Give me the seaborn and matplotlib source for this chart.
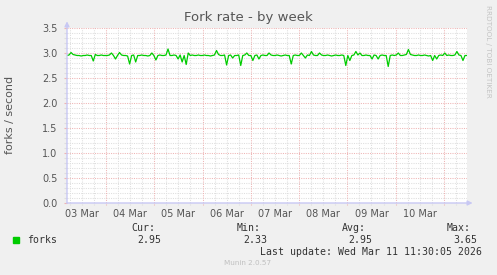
import matplotlib
matplotlib.use("Agg")
import matplotlib.pyplot as plt
import seaborn as sns
import pandas as pd
import numpy as np

# ---- data (hourly samples) ----
forks = [
    # 03 Mar (05h..23h)
    2.95, 2.96, 3.01, 2.97, 2.96, 2.95, 2.95, 2.94, 2.95, 2.95, 2.96, 2.95, 2.95, 2.84, 2.97, 2.95, 2.95, 2.96, 2.95,
    # 04 Mar
    2.95, 2.95, 2.96, 3.00, 2.95, 2.88, 2.95, 3.01, 2.96, 2.95, 2.95, 2.94, 2.78, 2.95, 2.96, 2.82, 2.95, 2.95, 2.96, 2.95, 2.95, 2.94, 2.95, 3.00,
    # 05 Mar
    2.95, 2.86, 2.95, 2.96, 2.95, 2.95, 2.96, 3.08, 2.95, 2.95, 2.96, 2.95, 2.88, 2.96, 2.82, 2.95, 2.77, 3.00, 2.95, 2.96, 2.95, 2.95, 2.96, 2.95,
    # 06 Mar
    2.95, 2.96, 2.95, 2.95, 2.94, 2.95, 2.96, 3.05, 2.97, 2.95, 2.95, 2.96, 2.76, 2.95, 2.96, 2.90, 2.95, 2.95, 2.96, 2.75, 2.95, 2.96, 3.00, 2.95,
    # 07 Mar
    2.95, 2.85, 2.95, 2.96, 2.88, 2.95, 2.96, 2.95, 2.95, 3.00, 2.96, 2.95, 2.95, 2.96, 2.95, 2.94, 2.95, 2.96, 2.95, 2.95, 2.78, 2.95, 2.96, 2.95,
    # 08 Mar
    2.95, 3.00, 2.95, 2.90, 2.96, 2.95, 3.03, 2.96, 2.95, 2.95, 3.00, 2.96, 2.95, 2.95, 2.96, 2.95, 2.94, 2.95, 2.96, 2.95, 2.95, 2.96, 2.95, 2.75,
    # 09 Mar
    2.95, 2.85, 2.95, 2.96, 3.03, 2.96, 3.00, 2.95, 2.95, 2.96, 2.95, 2.95, 2.88, 2.96, 2.95, 2.88, 2.95, 2.96, 2.95, 2.95, 2.73, 2.95, 2.96, 2.95,
    # 10 Mar
    2.96, 3.00, 2.95, 2.95, 2.96, 2.97, 3.07, 2.97, 2.96, 2.95, 2.95, 2.96, 2.95, 2.95, 2.96, 2.95, 2.94, 2.95, 2.85, 2.95, 2.88, 2.95, 2.96, 2.95,
    # 11 Mar (00h..11h)
    3.00, 2.95, 2.96, 2.95, 2.95, 2.96, 3.03, 2.96, 2.95, 2.85, 2.95, 2.95,
]
day_labels = ["03 Mar", "04 Mar", "05 Mar", "06 Mar", "07 Mar", "08 Mar", "09 Mar", "10 Mar"]
y_ticks = [0.0, 0.5, 1.0, 1.5, 2.0, 2.5, 3.0, 3.5]
stat_names = ["Cur:", "Min:", "Avg:", "Max:"]
stat_values = ["2.95", "2.33", "2.95", "3.65"]
series_name = "forks"
title = "Fork rate - by week"
y_label = "forks / second"
last_update = "Last update: Wed Mar 11 11:30:05 2026"

t_start = pd.Timestamp("2026-03-03 04:36")
t_end = pd.Timestamp("2026-03-11 11:30")
times = pd.date_range(t_start, t_end, periods=len(forks))
df = pd.DataFrame({"time": times, "forks": forks})

# ---- style ----
sns.set_theme(style="white")
plt.rcParams["font.family"] = ["DejaVu Sans"]
BG = "#f0f0f0"
RED = "#eeb4b4"
GRAY = "#dedede"
AXC = "#c8c8f4"
TXT = "#555555"

fig = plt.figure(figsize=(4.97, 2.75), dpi=100, facecolor=BG)
W, H = 497, 275
ax = fig.add_axes([67 / W, (H - 203) / H, 400 / W, 175 / H])
ax.set_facecolor("white")

# grid: horizontal
ax.set_ylim(0, 3.5)
ax.set_yticks(y_ticks)
ax.set_yticklabels([f"{v:.1f}" for v in y_ticks])
ax.yaxis.set_minor_locator(matplotlib.ticker.MultipleLocator(0.1))
ax.grid(which="minor", axis="y", color=GRAY, ls=(0, (1, 1.2)), lw=0.75)
ax.grid(which="major", axis="y", color=RED, ls=(0, (1, 1.2)), lw=0.75)

# grid: vertical
days = pd.date_range("2026-03-04", "2026-03-11", freq="D")
six_h = [t for t in pd.date_range("2026-03-03 06:00", "2026-03-11 06:00", freq="6h") if t.hour != 0]
for t in six_h:
    ax.axvline(t, ymin=-0.012, ymax=1, color=GRAY, ls=(0, (1, 1.2)), lw=0.75, clip_on=False, zorder=0.5)
for t in days:
    ax.axvline(t, ymin=-0.012, ymax=1, color=RED, ls=(0, (1, 1.2)), lw=0.75, clip_on=False, zorder=0.6)

sns.lineplot(data=df, x="time", y="forks", color="#00cc00", lw=0.9, ax=ax, zorder=3)

ax.set_xlim(t_start, t_end)
noons = pd.date_range("2026-03-03 12:00", periods=len(day_labels), freq="D")
ax.set_xticks(noons)
ax.set_xticklabels(day_labels)
ax.set_xlabel("")
ax.set_ylabel("")

for s in ax.spines.values():
    s.set_visible(False)
ax.tick_params(axis="x", which="both", length=0, pad=4, labelsize=7, labelcolor=TXT)
ax.tick_params(axis="y", which="major", length=2, width=0.8, color=RED, pad=5, labelsize=7, labelcolor=TXT, left=True)
ax.tick_params(axis="y", which="minor", length=2, width=0.8, color=GRAY, left=True)

# axes with arrows
ax.annotate("", xy=(0, 1.038), xytext=(0, 0), xycoords="axes fraction",
            arrowprops=dict(arrowstyle="-|>", color=AXC, lw=1, mutation_scale=7, shrinkA=0, shrinkB=0),
            annotation_clip=False, zorder=5)
ax.annotate("", xy=(1.014, 0), xytext=(0, 0), xycoords="axes fraction",
            arrowprops=dict(arrowstyle="-|>", color=AXC, lw=1, mutation_scale=7, shrinkA=0, shrinkB=0),
            annotation_clip=False, zorder=5)

# texts
fig.text(248 / W, 1 - 18 / H, title, ha="center", va="center", fontsize=9.5, color=TXT)
fig.text(10 / W, 1 - 115 / H, y_label, ha="center", va="center", rotation=90, fontsize=8, color=TXT)
fig.text(488 / W, 1 - 5 / H, "RRDTOOL / TOBI OETIKER", ha="center", va="top", rotation=270,
         fontsize=5.2, color="#c4c4c4")

mono = "DejaVu Sans Mono"
MC = "#333333"
fs = 7.1
fig.patches.append(matplotlib.patches.Rectangle((13 / W, 1 - 243 / H), 6 / W, 6 / H,
                                                transform=fig.transFigure, color="#00cc00", figure=fig))
fig.text(27 / W, 1 - 240 / H, series_name, ha="left", va="center", family=mono, fontsize=fs, color=MC)
name_right = [155, 261, 366, 471]
val_right = [161, 267, 372, 477]
for n, v, xr, xv in zip(stat_names, stat_values, name_right, val_right):
    fig.text(xr / W, 1 - 228 / H, n, ha="right", va="center", family=mono, fontsize=fs, color=MC)
    fig.text(xv / W, 1 - 240 / H, v, ha="right", va="center", family=mono, fontsize=fs, color=MC)
fig.text(482 / W, 1 - 252 / H, last_update, ha="right", va="center", family=mono, fontsize=fs, color=MC)
fig.text(248 / W, 1 - 263 / H, "Munin 2.0.57", ha="center", va="center", fontsize=5.2, color="#c0c0c0")

fig.savefig("out.png", dpi=100, facecolor=BG)
